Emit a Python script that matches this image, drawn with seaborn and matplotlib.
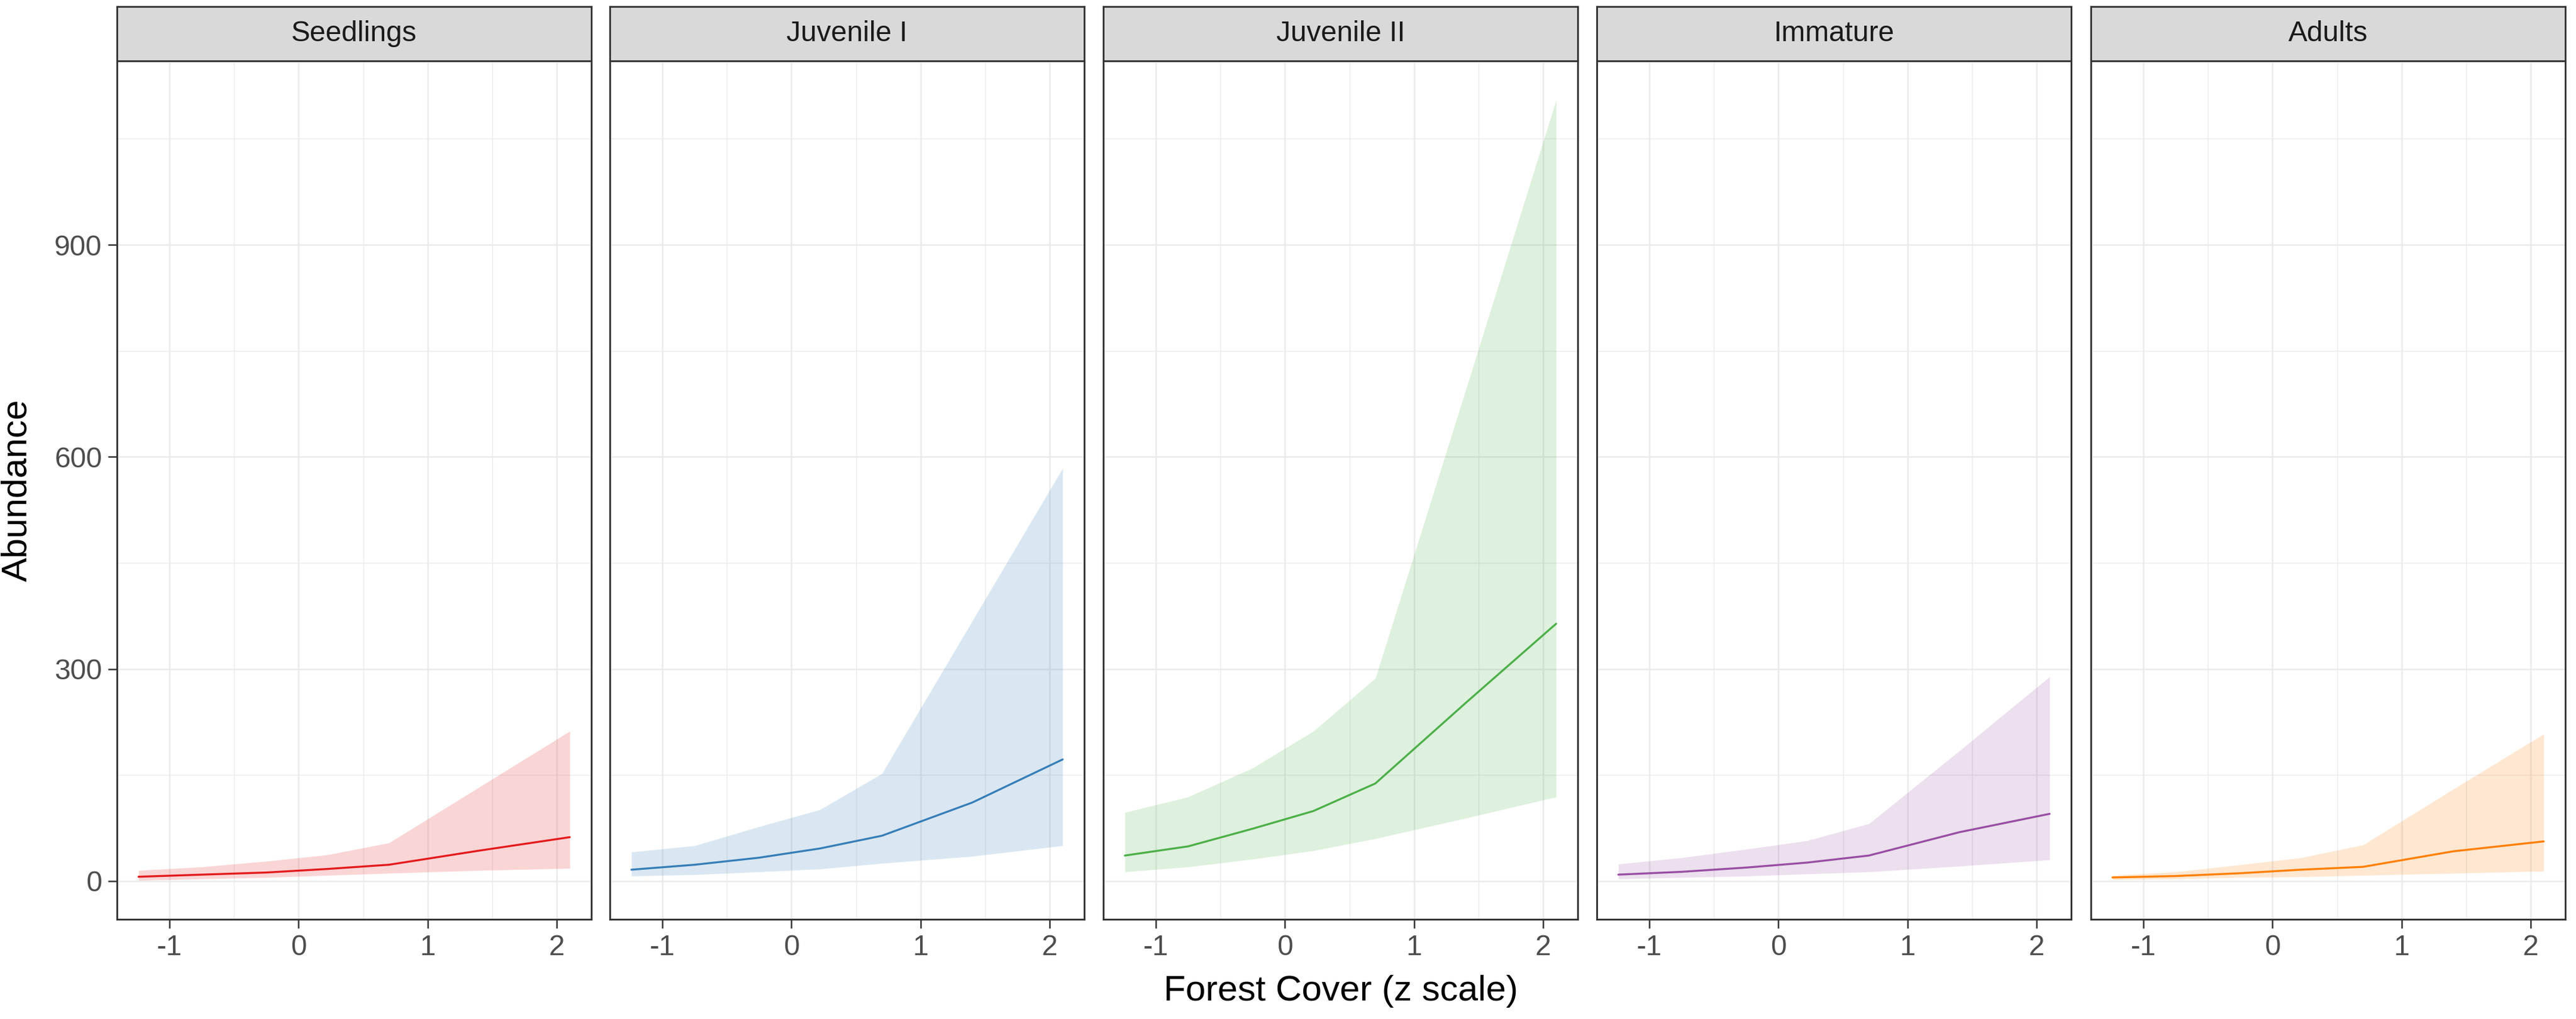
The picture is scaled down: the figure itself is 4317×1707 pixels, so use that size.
import matplotlib
matplotlib.use("Agg")
import matplotlib.pyplot as plt
import seaborn as sns
import pandas as pd
from matplotlib.ticker import MultipleLocator

# values
stages = ["Seedlings", "Juvenile I", "Juvenile II", "Immature", "Adults"]
forest_cover = [-1.24, -0.75, -0.25, 0.22, 0.70, 1.40, 2.10]

seedlings_fit = [6, 9, 12, 17, 23, 43, 62]
seedlings_low = [1, 3, 5, 8, 11, 15, 18]
seedlings_high = [15, 20, 28, 37, 54, 133, 212]

juv1_fit = [16, 23, 33, 46, 64, 111, 172]
juv1_low = [7, 9, 13, 17, 25, 35, 50]
juv1_high = [41, 50, 77, 101, 152, 368, 584]

juv2_fit = [36, 49, 74, 99, 138, 252, 364]
juv2_low = [13, 20, 31, 43, 60, 89, 119]
juv2_high = [97, 119, 160, 212, 287, 695, 1105]

immature_fit = [9, 13, 19, 26, 36, 69, 95]
immature_low = [3, 5, 7, 10, 13, 21, 30]
immature_high = [24, 33, 45, 57, 81, 184, 289]

adults_fit = [5, 7, 11, 16, 20, 42, 56]
adults_low = [2, 3, 5, 6, 8, 11, 14]
adults_high = [8, 13, 23, 33, 51, 130, 208]

fits = [seedlings_fit, juv1_fit, juv2_fit, immature_fit, adults_fit]
lows = [seedlings_low, juv1_low, juv2_low, immature_low, adults_low]
highs = [seedlings_high, juv1_high, juv2_high, immature_high, adults_high]

colors = ["#E41A1C", "#377EB8", "#4DAF4A", "#984EA3", "#FF7F00"]

rows = []
for stage, fit, low, high in zip(stages, fits, lows, highs):
    for x, f, l, h in zip(forest_cover, fit, low, high):
        rows.append({"stage": stage, "forest": x, "fit": f, "low": l, "high": h})
df = pd.DataFrame(rows)

sns.set_theme(style="white")
plt.rcParams["font.family"] = ["Liberation Sans", "DejaVu Sans"]

W, H = 4317, 1707
fig = plt.figure(figsize=(W / 300, H / 300), dpi=300)

# ggplot-like expanded limits
xmin, xmax = df["forest"].min(), df["forest"].max()
ymin, ymax = df["low"].min(), df["high"].max()
xpad = (xmax - xmin) * 0.05
ypad = (ymax - ymin) * 0.05

lefts = [196, 1022, 1849, 2676, 3504]
pw = 795
top_px, bot_px, strip_top = 102, 1540, 11
border = "#333333"

for i, (stage, col) in enumerate(zip(stages, colors)):
    ax = fig.add_axes([lefts[i] / W, 1 - bot_px / H, pw / W, (bot_px - top_px) / H])
    sub = df[df["stage"] == stage]
    ax.fill_between(sub["forest"], sub["low"], sub["high"], color=col,
                    alpha=0.18, linewidth=0, zorder=2)
    sns.lineplot(data=sub, x="forest", y="fit", ax=ax, color=col,
                 linewidth=0.8, zorder=3)
    ax.set_xlim(xmin - xpad, xmax + xpad)
    ax.set_ylim(ymin - ypad, ymax + ypad)
    ax.xaxis.set_major_locator(MultipleLocator(1))
    ax.xaxis.set_minor_locator(MultipleLocator(0.5))
    ax.yaxis.set_major_locator(MultipleLocator(300))
    ax.yaxis.set_minor_locator(MultipleLocator(150))
    ax.grid(which="major", color="#EBEBEB", linewidth=0.6, zorder=0)
    ax.grid(which="minor", color="#EBEBEB", linewidth=0.35, zorder=0)
    ax.set_axisbelow(True)
    ax.set_xlabel("")
    ax.set_ylabel("")
    for s in ax.spines.values():
        s.set_color(border)
        s.set_linewidth(0.7)
    ax.tick_params(which="major", length=3.5, width=0.6, color=border,
                   labelsize=11.5, labelcolor="#4D4D4D", pad=2.5,
                   bottom=True, left=(i == 0))
    ax.tick_params(which="minor", length=0)
    ax.set_xticks([-1, 0, 1, 2])
    ax.set_xticklabels(["-1", "0", "1", "2"])
    if i > 0:
        ax.set_yticklabels([])
        ax.tick_params(axis="y", left=False)

    # facet strip
    sax = fig.add_axes([lefts[i] / W, 1 - top_px / H, pw / W, (top_px - strip_top) / H])
    sax.set_facecolor("#D9D9D9")
    sax.set_xticks([])
    sax.set_yticks([])
    for s in sax.spines.values():
        s.set_color(border)
        s.set_linewidth(0.7)
    sax.text(0.5, 0.5, stage, ha="center", va="center", fontsize=11.5,
             color="#1A1A1A", transform=sax.transAxes)

fig.text((lefts[0] + lefts[-1] + pw) / 2 / W, 1 - 1660 / H, "Forest Cover (z scale)",
         ha="center", va="center", fontsize=14.5, color="black")
fig.text(29 / W, 1 - (top_px + bot_px) / 2 / H, "Abundance", rotation=90,
         ha="center", va="center", fontsize=14.5, color="black")

fig.savefig("out.png", dpi=300, facecolor="white")
